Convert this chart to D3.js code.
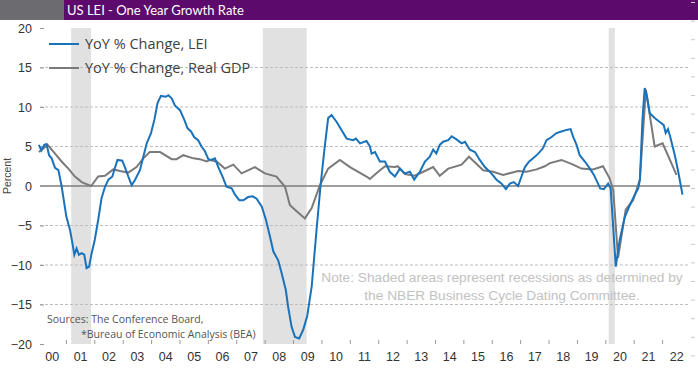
<!DOCTYPE html>
<html>
<head>
<meta charset="utf-8">
<script src="https://cdn.jsdelivr.net/npm/d3@7"></script>
<style>
  body { margin: 0; background: #fff; }
  svg { display: block; }
</style>
</head>
<body>
<div id="chart"></div>
<script>
// LEI year-over-year % change, [decimal year, value]
const leiData = [
  [2000.03, 5.2], [2000.12, 4.5], [2000.22, 5.2], [2000.3, 5.3], [2000.39, 3.9], [2000.48, 3.5],
  [2000.6, 2.3], [2000.72, 2.0], [2000.83, 0.0], [2001.0, -3.9], [2001.13, -5.6], [2001.21, -7.2],
  [2001.28, -8.7], [2001.36, -7.9], [2001.44, -8.7], [2001.54, -8.5], [2001.63, -8.7], [2001.71, -10.4],
  [2001.8, -10.2], [2001.89, -8.5], [2002.0, -6.8], [2002.12, -4.3], [2002.24, -1.5], [2002.36, -0.1],
  [2002.48, 0.8], [2002.62, 1.2], [2002.71, 2.3], [2002.8, 3.3], [2002.97, 3.2], [2003.06, 2.4],
  [2003.18, 1.2], [2003.3, 0.1], [2003.42, 0.8], [2003.59, 2.0], [2003.71, 3.7], [2003.83, 5.4],
  [2003.98, 6.7], [2004.1, 8.4], [2004.21, 10.5], [2004.33, 11.4], [2004.5, 11.3], [2004.59, 11.5],
  [2004.71, 11.1], [2004.82, 10.2], [2005.0, 9.6], [2005.15, 8.4], [2005.27, 7.3], [2005.39, 6.9],
  [2005.5, 6.2], [2005.64, 5.8], [2005.76, 5.0], [2005.88, 4.4], [2006.0, 3.4], [2006.1, 3.3],
  [2006.23, 3.5], [2006.35, 2.4], [2006.5, 1.2], [2006.64, -0.1], [2006.82, -0.3], [2006.94, -1.1],
  [2007.09, -1.8], [2007.23, -1.8], [2007.4, -1.4], [2007.56, -1.3], [2007.7, -1.6], [2007.88, -2.6],
  [2008.03, -4.3], [2008.17, -6.4], [2008.29, -8.3], [2008.46, -9.4], [2008.58, -11.0], [2008.73, -13.2],
  [2008.81, -15.3], [2008.93, -17.8], [2009.05, -19.1], [2009.2, -19.3], [2009.34, -18.2], [2009.48, -16.5],
  [2009.64, -12.7], [2009.81, -5.6], [2009.95, 0.0], [2010.1, 5.0], [2010.22, 8.6], [2010.34, 9.0],
  [2010.52, 8.1], [2010.69, 7.1], [2010.87, 6.0], [2011.1, 5.8], [2011.2, 6.0], [2011.34, 5.4],
  [2011.57, 5.7], [2011.69, 5.0], [2011.75, 4.1], [2011.87, 4.3], [2012.04, 3.1], [2012.22, 3.1],
  [2012.39, 1.8], [2012.57, 1.2], [2012.75, 2.2], [2012.92, 1.6], [2013.1, 1.8], [2013.25, 0.8],
  [2013.45, 1.8], [2013.63, 3.1], [2013.8, 3.7], [2013.92, 4.6], [2014.03, 4.1], [2014.15, 5.2],
  [2014.27, 5.6], [2014.45, 5.8], [2014.57, 6.3], [2014.74, 5.9], [2014.92, 5.4], [2015.04, 5.6],
  [2015.21, 4.6], [2015.39, 4.3], [2015.56, 3.3], [2015.74, 2.4], [2015.97, 1.6], [2016.15, 0.8],
  [2016.33, 0.3], [2016.48, -0.4], [2016.62, 0.3], [2016.76, 0.5], [2016.91, 0.0], [2017.03, 1.2],
  [2017.15, 2.4], [2017.3, 3.1], [2017.44, 3.5], [2017.62, 4.1], [2017.79, 4.8], [2017.91, 5.8],
  [2018.09, 6.2], [2018.26, 6.7], [2018.44, 6.9], [2018.62, 7.1], [2018.76, 7.2], [2018.85, 6.2],
  [2018.97, 5.2], [2019.08, 3.9], [2019.26, 3.1], [2019.44, 2.2], [2019.58, 1.4], [2019.7, 0.5],
  [2019.8, -0.3], [2019.93, -0.4], [2020.02, 0.0], [2020.08, 0.3], [2020.17, -0.3], [2020.26, -5.2],
  [2020.35, -10.2], [2020.49, -6.8], [2020.67, -3.9], [2020.85, -2.4], [2021.02, -1.1], [2021.14, -0.3],
  [2021.2, 0.8], [2021.29, 8.4], [2021.37, 12.4], [2021.45, 11.3], [2021.55, 9.2], [2021.72, 8.6],
  [2021.9, 8.1], [2022.04, 7.7], [2022.11, 6.7], [2022.19, 7.2], [2022.27, 6.2], [2022.43, 3.9],
  [2022.55, 1.8], [2022.7, -1.1]
]

// Real GDP year-over-year % change (quarterly), [decimal year, value]
const gdpData = [
  [2000.03, 4.3], [2000.34, 5.2], [2000.6, 4.1], [2000.83, 3.1], [2001.07, 2.2], [2001.3, 1.2],
  [2001.54, 0.5], [2001.87, 0.0], [2002.12, 1.2], [2002.36, 1.3], [2002.65, 2.1], [2002.89, 1.9],
  [2003.18, 1.7], [2003.47, 2.4], [2003.71, 3.5], [2003.94, 4.3], [2004.3, 4.3], [2004.71, 3.4],
  [2004.88, 3.4], [2005.12, 3.9], [2005.47, 3.5], [2005.7, 3.4], [2005.94, 3.1], [2006.06, 3.3],
  [2006.29, 3.1], [2006.58, 2.2], [2006.88, 2.7], [2007.17, 1.6], [2007.64, 2.4], [2007.99, 1.6],
  [2008.4, 1.2], [2008.7, -0.1], [2008.87, -2.4], [2009.05, -3.0], [2009.4, -4.1], [2009.64, -2.8],
  [2009.93, 0.1], [2010.22, 2.2], [2010.63, 3.3], [2010.99, 2.4], [2011.57, 1.2], [2011.69, 0.9],
  [2011.92, 1.6], [2012.22, 2.5], [2012.57, 2.4], [2012.67, 2.5], [2012.92, 1.5], [2013.27, 1.3],
  [2013.57, 1.8], [2013.92, 2.4], [2014.15, 1.3], [2014.45, 2.2], [2014.92, 2.7], [2015.18, 3.7],
  [2015.68, 2.0], [2016.03, 1.8], [2016.38, 1.4], [2016.91, 1.9], [2017.21, 1.8], [2017.56, 2.1],
  [2017.85, 2.5], [2018.03, 2.9], [2018.44, 3.3], [2018.85, 2.7], [2019.14, 2.2], [2019.55, 2.1],
  [2019.9, 2.5], [2020.13, 1.0], [2020.26, -0.5], [2020.43, -9.1], [2020.7, -3.0], [2020.96, -1.8],
  [2021.2, 0.8], [2021.41, 12.2], [2021.72, 5.0], [2022.0, 5.4], [2022.49, 1.4]
]

// NBER recessions [start, end]
const recessions = [[2001.17, 2001.87], [2007.92, 2009.46], [2020.1, 2020.32]]

const yearLabels = ["00","01","02","03","04","05","06","07","08","09","10","11",
                    "12","13","14","15","16","17","18","19","20","21","22"]
const yTicks = [20, 15, 10, 5, 0, -5, -10, -15, -20]
const gridValues = [15, 10, 5, -5, -10, -15]

const W = 698, H = 373
const BLUE = "#1a72bb", GRAY = "#7a7a7a"

const svg = d3.select("#chart").append("svg")
    .attr("width", W)
    .attr("height", H)

// header bar
svg.append("rect").attr("x", 0).attr("y", 0).attr("width", 64).attr("height", 20).attr("fill", "#6b6b70")
svg.append("rect").attr("x", 64).attr("y", 0).attr("width", W - 64).attr("height", 20).attr("fill", "#5c0a6c")
svg.append("text")
    .attr("x", 67).attr("y", 14.5)
    .style("font-family", "Lato, sans-serif")
    .style("font-size", "13px")
    .style("fill", "#fff")
    .text("US LEI - One Year Growth Rate")

const x = d3.scaleLinear().domain([2000, 2023]).range([38, 691])
const y = d3.scaleLinear().domain([-20, 20]).range([344, 28])

// recession shading
svg.selectAll("rect.rec")
    .data(recessions).enter()
    .append("rect")
    .attr("class", "rec")
    .attr("x", d => x(d[0]))
    .attr("width", d => x(d[1]) - x(d[0]))
    .attr("y", y(20))
    .attr("height", y(-20) - y(20))
    .attr("fill", "#e1e1e1")

// gridlines
svg.selectAll("line.grid")
    .data(gridValues).enter()
    .append("line")
    .attr("x1", 40).attr("x2", 690)
    .attr("y1", d => y(d)).attr("y2", d => y(d))
    .attr("stroke", "#bdbdbd")
    .attr("stroke-dasharray", "3,2")
    .attr("stroke-width", 1)

// zero line
svg.append("line")
    .attr("x1", 40).attr("x2", 690)
    .attr("y1", y(0)).attr("y2", y(0))
    .attr("stroke", "#7d7d7d")
    .attr("stroke-width", 1.3)

// y axis
const yAxis = svg.append("g")
    .attr("transform", "translate(40,0)")
    .call(d3.axisLeft(y).tickValues(yTicks).tickSize(-4).tickPadding(8).tickSizeOuter(0))
yAxis.select(".domain").remove()
yAxis.selectAll("line").attr("stroke", "#999")
yAxis.selectAll("text")
    .style("font-family", "'Liberation Sans', Arial, sans-serif")
    .style("font-size", "12.5px")
    .style("fill", "#333")

// faint right-side ticks
const yRight = d3.scaleLinear().domain([0, 20]).range([374, 2])
const rAxis = svg.append("g")
    .attr("transform", "translate(691,0)")
    .call(d3.axisRight(yRight).ticks(20).tickSize(4).tickFormat(""))
rAxis.select(".domain").remove()
rAxis.selectAll("line").attr("stroke", "#c8c8c8")

// x axis: ticks at year boundaries, labels mid-year
const xTicks = d3.range(2001, 2023)
svg.selectAll("line.xt")
    .data(xTicks).enter()
    .append("line")
    .attr("x1", d => x(d)).attr("x2", d => x(d))
    .attr("y1", y(-20) - 4).attr("y2", y(-20))
    .attr("stroke", "#999")
svg.selectAll("text.xl")
    .data(yearLabels).enter()
    .append("text")
    .attr("x", (d, i) => x(2000 + i + 0.5))
    .attr("y", 361)
    .attr("text-anchor", "middle")
    .style("font-family", "'Liberation Sans', Arial, sans-serif")
    .style("font-size", "12.5px")
    .style("fill", "#333")
    .text(d => d)

// y axis title
svg.append("text")
    .attr("transform", "translate(11,176) rotate(-90)")
    .attr("text-anchor", "middle")
    .style("font-family", "'Liberation Sans', Arial, sans-serif")
    .style("font-size", "10.5px")
    .style("fill", "#444")
    .text("Percent")

// lines
const line = d3.line().x(d => x(d[0])).y(d => y(d[1]))

svg.append("path")
    .datum(gdpData)
    .attr("d", line)
    .attr("fill", "none")
    .attr("stroke", GRAY)
    .attr("stroke-width", 2)

svg.append("path")
    .datum(leiData)
    .attr("d", line)
    .attr("fill", "none")
    .attr("stroke", BLUE)
    .attr("stroke-width", 2)

// legend
const legend = [["YoY % Change, LEI", BLUE], ["YoY % Change, Real GDP", GRAY]]
const lg = svg.selectAll("g.lg")
    .data(legend).enter()
    .append("g")
    .attr("transform", (d, i) => "translate(49," + (44 + i * 24) + ")")
lg.append("line")
    .attr("x1", 0).attr("x2", 30)
    .attr("stroke", d => d[1])
    .attr("stroke-width", 2)
lg.append("text")
    .attr("x", 36).attr("y", 5)
    .style("font-family", "'Open Sans', sans-serif")
    .style("font-size", "14.5px")
    .style("fill", "#404040")
    .text(d => d[0])

// note
const noteLines = ["Note: Shaded areas represent recessions as determined by",
                   "the NBER Business Cycle Dating Committee."]
svg.selectAll("text.note")
    .data(noteLines).enter()
    .append("text")
    .attr("x", 502)
    .attr("y", (d, i) => 282 + i * 18)
    .attr("text-anchor", "middle")
    .style("font-family", "'Liberation Sans', Arial, sans-serif")
    .style("font-size", "13.7px")
    .style("fill", "#c2c2c2")
    .text(d => d)

// sources
svg.append("text")
    .attr("x", 47).attr("y", 323)
    .style("font-family", "'Open Sans', sans-serif")
    .style("font-size", "10.5px")
    .style("fill", "#555")
    .text("Sources: The Conference Board,")
svg.append("text")
    .attr("x", 81).attr("y", 338)
    .style("font-family", "'Open Sans', sans-serif")
    .style("font-size", "10.5px")
    .style("fill", "#555")
    .text("*Bureau of Economic Analysis (BEA)")
</script>
</body>
</html>
